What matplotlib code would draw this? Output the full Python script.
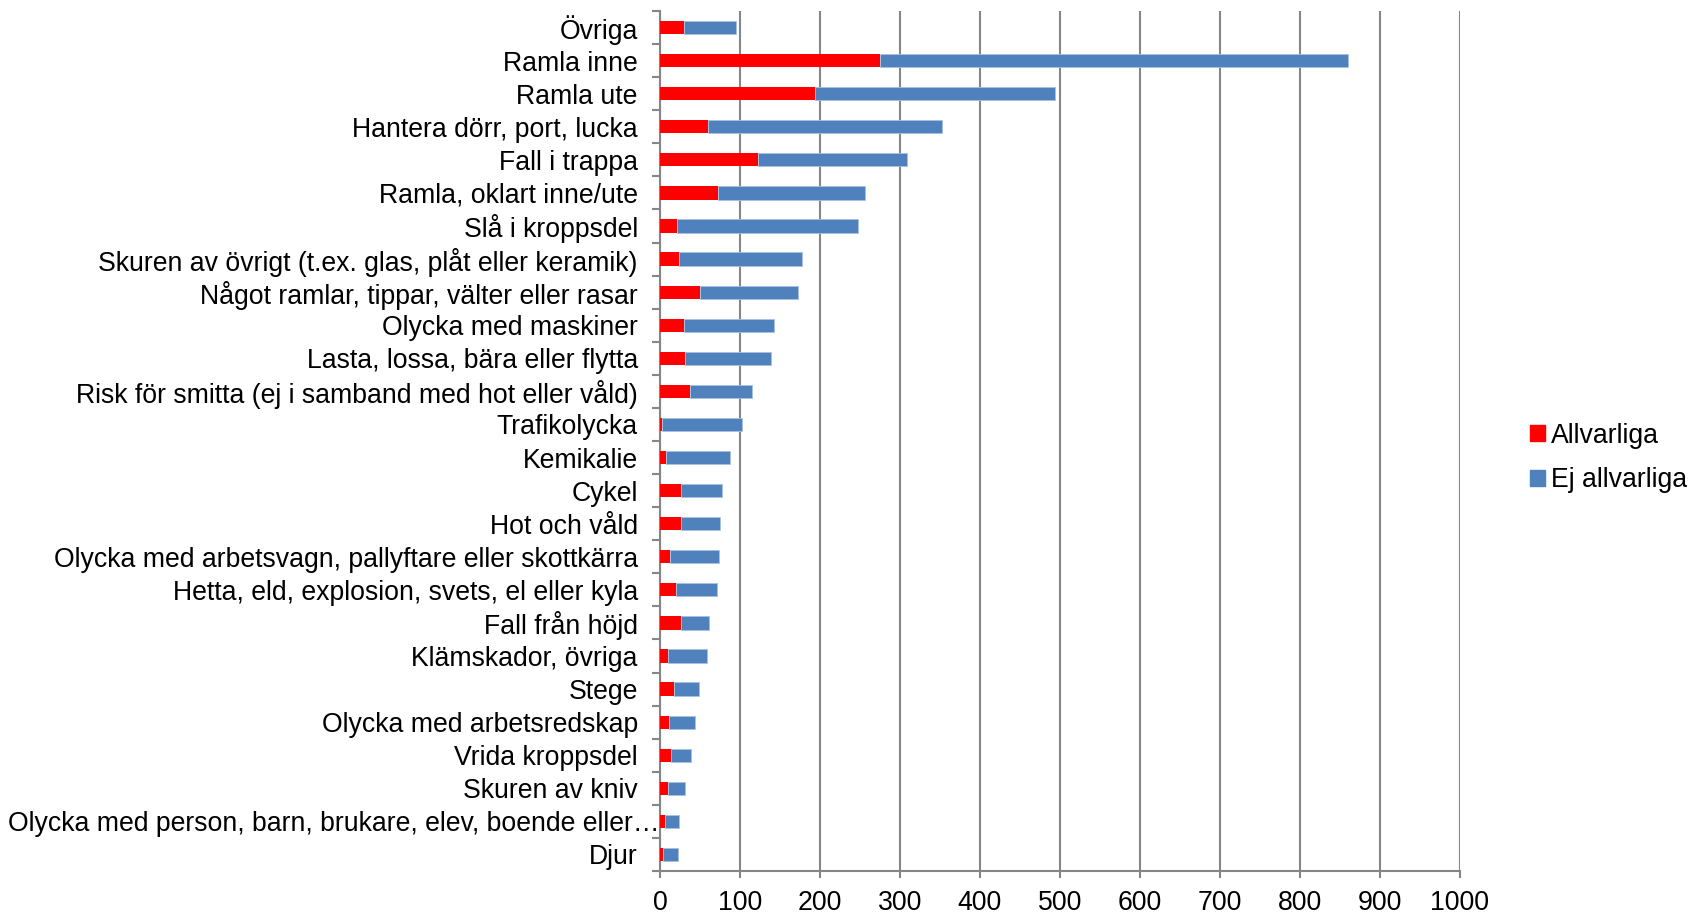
import numpy as np
import matplotlib.pyplot as plt
from matplotlib.patches import Patch
from matplotlib.transforms import ScaledTranslation

# Categories, top to bottom as shown
categories = [
    'Övriga', 'Ramla inne', 'Ramla ute', 'Hantera dörr, port, lucka',
    'Fall i trappa', 'Ramla, oklart inne/ute', 'Slå i kroppsdel',
    'Skuren av övrigt (t.ex. glas, plåt eller keramik)',
    'Något ramlar, tippar, välter eller rasar', 'Olycka med maskiner',
    'Lasta, lossa, bära eller flytta',
    'Risk för smitta (ej i samband med hot eller våld)', 'Trafikolycka',
    'Kemikalie', 'Cykel', 'Hot och våld',
    'Olycka med arbetsvagn, pallyftare eller skottkärra',
    'Hetta, eld, explosion, svets, el eller kyla', 'Fall från höjd',
    'Klämskador, övriga', 'Stege', 'Olycka med arbetsredskap',
    'Vrida kroppsdel', 'Skuren av kniv',
    'Olycka med person, barn, brukare, elev, boende eller…', 'Djur',
]
allvarliga = [30, 275, 194, 60, 122, 72, 21, 24, 50, 30, 31, 37, 2, 7, 26, 26,
              12, 20, 26, 10, 18, 11, 14, 10, 6, 4]
totals = [95, 860, 494, 353, 309, 256, 247, 178, 172, 143, 139, 115, 102, 87,
          78, 75, 74, 71, 61, 59, 49, 44, 39, 31, 24, 22]
ej_allvarliga = [t - a for t, a in zip(totals, allvarliga)]

RED = '#FF0000'
BLUE = '#4F81BD'
GRAY = '#868686'
FS = 19.2

plt.rcParams['font.family'] = ['Liberation Sans', 'DejaVu Sans']

fig = plt.figure(figsize=(16.9, 9.16), dpi=100)
ax = fig.add_axes([660 / 1690, 45 / 916, 800 / 1690, 860 / 916])

y = np.arange(len(categories))
ax.barh(y, allvarliga, height=0.4, color=RED, edgecolor='none', zorder=3)
ax.barh(y, ej_allvarliga, left=allvarliga, height=0.4, color=BLUE,
        edgecolor='#A8C1E0', linewidth=0.6, zorder=3)

ax.set_xlim(0, 1000)
ax.set_ylim(len(categories) - 0.5, -0.5)
ax.set_xticks(np.arange(0, 1001, 100))
ax.set_yticks(y)
ax.set_yticklabels(categories)
ax.set_yticks(np.arange(-0.5, len(categories), 1), minor=True)

ax.xaxis.grid(True, color=GRAY, linewidth=1.5, zorder=0)
ax.set_axisbelow(True)
for s in ['top', 'right']:
    ax.spines[s].set_visible(False)
for s in ['left', 'bottom']:
    ax.spines[s].set_color(GRAY)
    ax.spines[s].set_linewidth(1.5)

ax.tick_params(axis='x', length=5, width=1.5, color=GRAY, labelsize=FS, pad=9)
ax.tick_params(axis='y', which='major', length=0, labelsize=FS, pad=16)
ax.tick_params(axis='y', which='minor', length=6, width=1.5, color=GRAY)

# the truncated label runs up to the axis in the original
long_lbl = ax.get_yticklabels()[24]
long_lbl.set_transform(long_lbl.get_transform() +
                       ScaledTranslation(22 / 100, 0, fig.dpi_scale_trans))

handles = [Patch(color=RED, label='Allvarliga'),
           Patch(color=BLUE, label='Ej allvarliga')]
fig.legend(handles=handles, loc='center left', bbox_to_anchor=(1530 / 1690, 0.5),
           frameon=False, fontsize=FS, handlelength=0.55, handleheight=0.55,
           handletextpad=0.25, labelspacing=0.7, borderpad=0, borderaxespad=0)

fig.savefig('out.png', dpi=100)
